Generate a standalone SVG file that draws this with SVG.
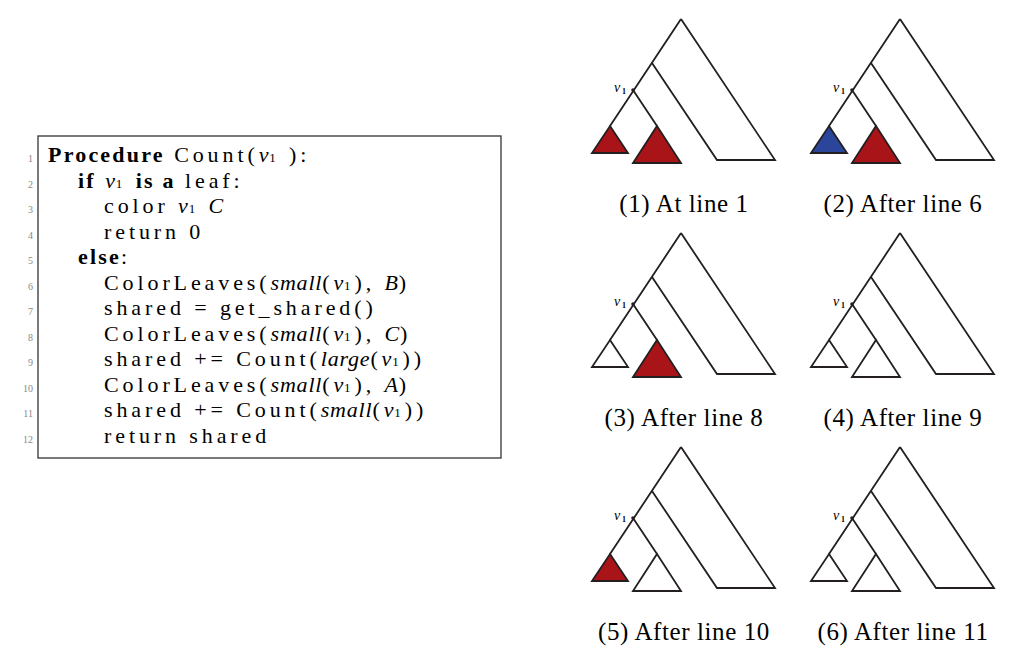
<svg xmlns="http://www.w3.org/2000/svg" width="1024" height="659" viewBox="0 0 1024 659">
<defs>
<style>
.c{font-family:"Liberation Serif",serif;font-size:22px;letter-spacing:3.9px;fill:#000}
.n{font-family:"Liberation Serif",serif;font-size:10px;fill:#888;text-anchor:end}
.b{font-weight:bold;letter-spacing:2.2px}
.i{font-style:italic;letter-spacing:0.8px}
.cap{font-family:"Liberation Serif",serif;font-size:25px;letter-spacing:0.6px;text-anchor:middle}
.e{fill:none;stroke:#231f20;stroke-width:1.8}
.r{fill:#a91419;stroke:#231f20;stroke-width:1.8}
.u{fill:#2a459a;stroke:#231f20;stroke-width:1.8}
.w{fill:#fff;stroke:#231f20;stroke-width:1.8}
</style>
<g id="tree">
<path class="e" d="M681,19 L775,160 L717,160 L652,63 M681,19 L610,126 M633,90 L657,126"/>
<circle cx="633" cy="90" r="1.8" fill="#231f20"/>
<text x="614" y="92" font-family="Liberation Serif,serif" font-style="italic" font-size="14">v</text>
<text x="622" y="94" font-family="Liberation Serif,serif" font-weight="bold" font-size="8">1</text>
</g>
</defs>
<g id="code">
<rect x="38" y="136" width="463" height="322" fill="#fff" stroke="#333" stroke-width="1.3"/>
<text class="n" x="33" y="162">1</text><text class="n" x="33" y="188">2</text><text class="n" x="33" y="213">3</text><text class="n" x="33" y="239">4</text><text class="n" x="33" y="264">5</text><text class="n" x="33" y="290">6</text><text class="n" x="33" y="315">7</text><text class="n" x="33" y="341">8</text><text class="n" x="33" y="366">9</text><text class="n" x="33" y="392">10</text><text class="n" x="33" y="417">11</text><text class="n" x="33" y="443">12</text>
<text class="c" x="48" y="162"><tspan class="b">Procedure</tspan> Count(<tspan class="i">v</tspan><tspan font-size="13">1</tspan> ):</text>
<text class="c" x="78" y="188"><tspan class="b">if</tspan> <tspan class="i">v</tspan><tspan font-size="13">1</tspan> <tspan class="b">is a</tspan> leaf:</text>
<text class="c" x="104" y="213">color <tspan class="i">v</tspan><tspan font-size="13">1</tspan> <tspan class="i">C</tspan></text>
<text class="c" x="104" y="239">return 0</text>
<text class="c" x="78" y="264"><tspan class="b">else</tspan>:</text>
<text class="c" x="104" y="290">ColorLeaves(<tspan class="i">small</tspan>(<tspan class="i">v</tspan><tspan font-size="13">1</tspan>), <tspan class="i">B</tspan>)</text>
<text class="c" x="104" y="315">shared = get_shared()</text>
<text class="c" x="104" y="341">ColorLeaves(<tspan class="i">small</tspan>(<tspan class="i">v</tspan><tspan font-size="13">1</tspan>), <tspan class="i">C</tspan>)</text>
<text class="c" x="104" y="366">shared += Count(<tspan class="i">large</tspan>(<tspan class="i">v</tspan><tspan font-size="13">1</tspan>))</text>
<text class="c" x="104" y="392">ColorLeaves(<tspan class="i">small</tspan>(<tspan class="i">v</tspan><tspan font-size="13">1</tspan>), <tspan class="i">A</tspan>)</text>
<text class="c" x="104" y="417">shared += Count(<tspan class="i">small</tspan>(<tspan class="i">v</tspan><tspan font-size="13">1</tspan>))</text>
<text class="c" x="104" y="443">return shared</text>
</g>
<g id="t1"><use href="#tree"/><path class="r" d="M610,126 L628,153 L592,153 Z"/><path class="r" d="M657,126 L681,163 L633,163 Z"/><text class="cap" x="684" y="212">(1) At line 1</text></g>
<g id="t2" transform="translate(219,0)"><use href="#tree"/><path class="u" d="M610,126 L628,153 L592,153 Z"/><path class="r" d="M657,126 L681,163 L633,163 Z"/><text class="cap" x="684" y="212">(2) After line 6</text></g>
<g id="t3" transform="translate(0,214)"><use href="#tree"/><path class="w" d="M610,126 L628,153 L592,153 Z"/><path class="r" d="M657,126 L681,163 L633,163 Z"/><text class="cap" x="684" y="212">(3) After line 8</text></g>
<g id="t4" transform="translate(219,214)"><use href="#tree"/><path class="w" d="M610,126 L628,153 L592,153 Z"/><path class="w" d="M657,126 L681,163 L633,163 Z"/><text class="cap" x="684" y="212">(4) After line 9</text></g>
<g id="t5" transform="translate(0,428)"><use href="#tree"/><path class="r" d="M610,126 L628,153 L592,153 Z"/><path class="w" d="M657,126 L681,163 L633,163 Z"/><text class="cap" x="684" y="212">(5) After line 10</text></g>
<g id="t6" transform="translate(219,428)"><use href="#tree"/><path class="w" d="M610,126 L628,153 L592,153 Z"/><path class="w" d="M657,126 L681,163 L633,163 Z"/><text class="cap" x="684" y="212">(6) After line 11</text></g>
</svg>
